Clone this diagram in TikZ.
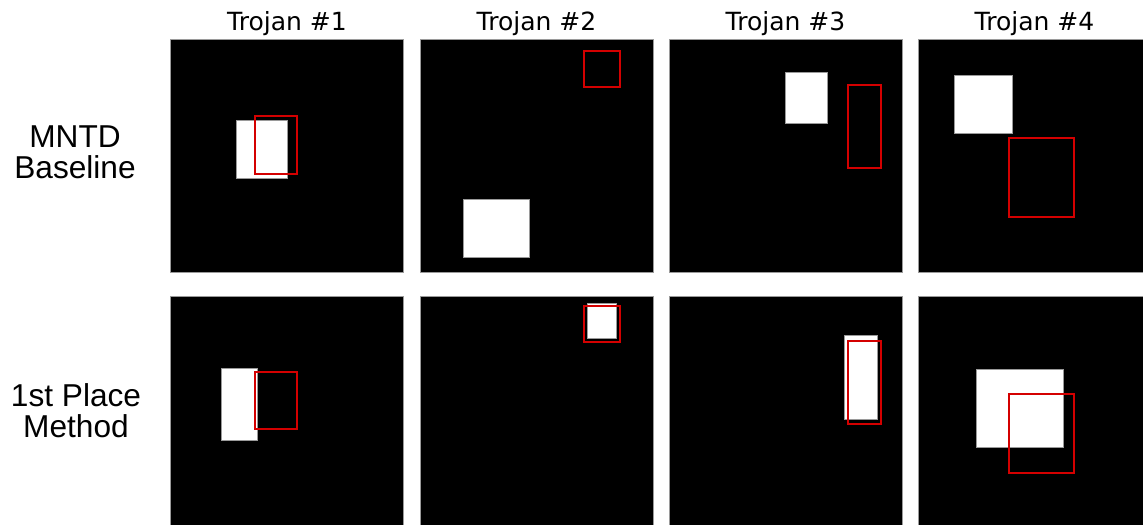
\documentclass[tikz,border=0pt]{standalone}
\usepackage{fontspec}
\setmainfont{Liberation Sans}
\newfontfamily\titlefont{DejaVu Sans}
\usetikzlibrary{positioning}
\definecolor{trigred}{HTML}{D40000}
\definecolor{edge}{HTML}{9A9A9A}
\tikzset{
  panel/.style={
    rectangle, fill=black, draw=edge, line width=0.5pt,
    minimum width=5.825cm, minimum height=5.825cm, inner sep=0pt
  },
  trigger/.style={fill=white, draw=edge, line width=0.4pt},
  guess/.style={draw=trigred, line width=0.05cm},
  coltitle/.style={font=\titlefont\fontsize{17.8}{20}\selectfont, anchor=base},
  rowtitle/.style={font=\fontsize{22.5}{22}\selectfont, align=center},
}

\begin{document}
\begin{tikzpicture}[x=0.025cm, y=-0.025cm]
  \useasboundingbox (0,0) rectangle (1143,525);

  % grid of panels
  \foreach \c/\x in {1/287, 2/536.5, 3/785.5, 4/1034.5} {
    \node[panel] (top\c) at (\x,155.5) {};
    \node[panel] (bot\c) at (\x,412.5) {};
    \node[coltitle] (title\c) at (\x,31) {Trojan \#\c};
  }

  \node[rowtitle] (mntd) at (75,152) {MNTD\\Baseline};
  \node[rowtitle] (first) at (76,411) {1st Place\\Method};

  % MNTD baseline
  \draw[trigger] (236,120) rectangle (287,178);
  \draw[guess] (255,116) rectangle (297,174);
  \draw[trigger] (463.5,199.5) rectangle (529,257.3);
  \draw[guess] (584,51) rectangle (620,87);
  \draw[trigger] (785.7,72.3) rectangle (827.7,123);
  \draw[guess] (848,85) rectangle (881,168);
  \draw[trigger] (954,75.7) rectangle (1012.3,133.3);
  \draw[guess] (1009,138) rectangle (1074,217);

  % 1st place method
  \draw[trigger] (221.3,368.7) rectangle (257.3,440.3);
  \draw[guess] (255,372) rectangle (297,429);
  \draw[trigger] (587.7,303.3) rectangle (616.7,338.7);
  \draw[guess] (584,306) rectangle (620,342);
  \draw[trigger] (844.7,335.7) rectangle (877.7,419.3);
  \draw[guess] (848,341) rectangle (881,424);
  \draw[trigger] (976.7,369) rectangle (1063.7,447.3);
  \draw[guess] (1009,394) rectangle (1074,473);
\end{tikzpicture}
\end{document}
